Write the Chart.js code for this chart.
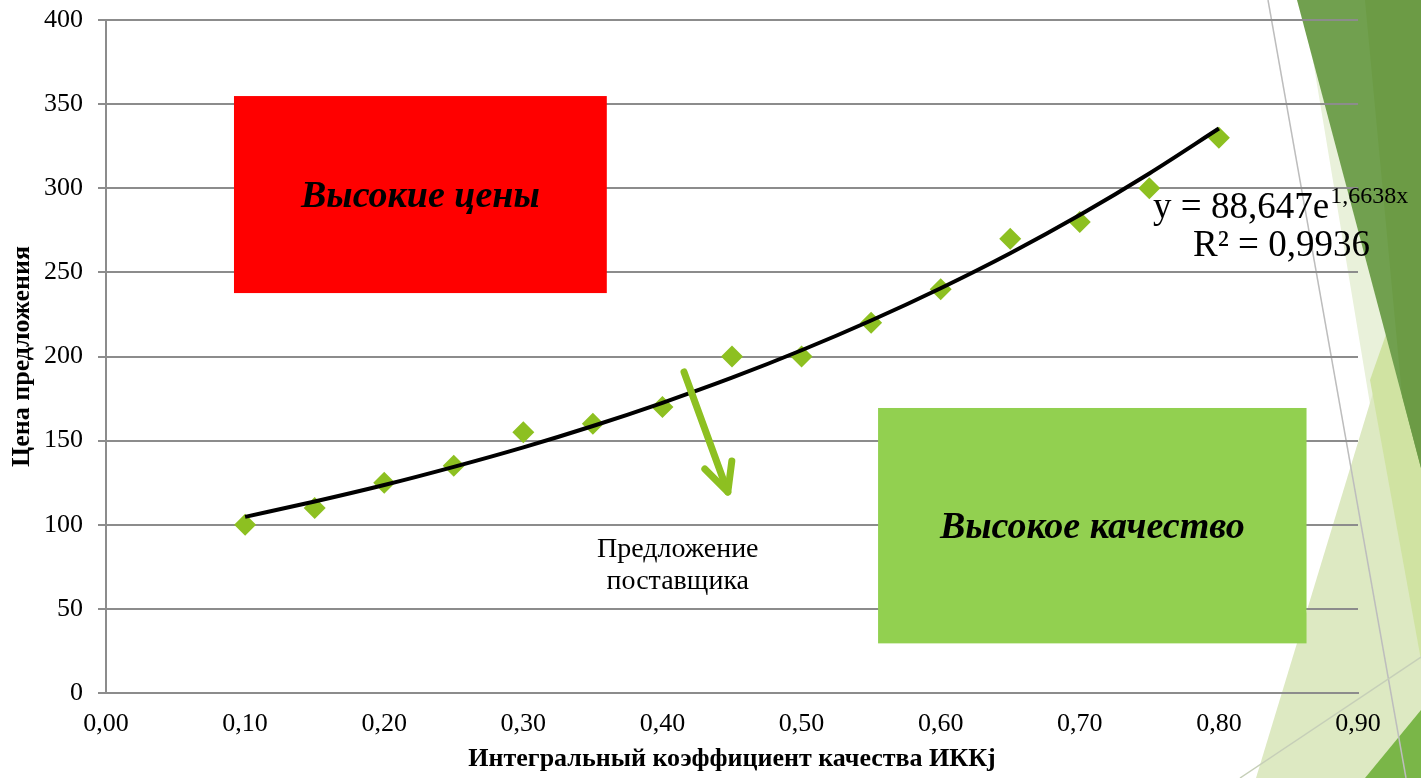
<!DOCTYPE html>
<html>
<head>
<meta charset="utf-8">
<script src="https://cdn.jsdelivr.net/npm/chart.js@4"></script>
<style>
  html, body { margin: 0; padding: 0; background: #ffffff; }
  #wrap { width: 1421px; height: 778px; position: relative; }
</style>
</head>
<body>
<div id="wrap"><canvas id="c" width="1421" height="778"></canvas></div>
<script>
// ---- data ----
const xValues = [0.10, 0.15, 0.20, 0.25, 0.30, 0.35, 0.40, 0.45, 0.50, 0.55, 0.60, 0.65, 0.70, 0.75, 0.80];
const priceValues = [100, 110, 125, 135, 155, 160, 170, 200, 200, 220, 240, 270, 280, 300, 330];
// trend line (exponential fit shown on the chart), read at the same x positions
const trendValues = [104.7, 113.8, 123.6, 134.4, 146.0, 158.7, 172.5, 187.4, 203.7, 221.4, 240.6, 261.4, 284.1, 308.8, 335.5];
const xTicks = [0, 0.1, 0.2, 0.3, 0.4, 0.5, 0.6, 0.7, 0.8, 0.9];
const yTicks = [0, 50, 100, 150, 200, 250, 300, 350, 400];
const xTitle = 'Интегральный коэффициент качества ИККj';
const yTitle = 'Цена предложения';
const boxHighPrice = { label: 'Высокие цены', x0: 0.092, x1: 0.360, y0: 237.7, y1: 354.8 };
const boxHighQuality = { label: 'Высокое качество', x0: 0.555, x1: 0.863, y0: 29.5, y1: 169.4 };
const supplierLabel = ['Предложение', 'поставщика'];
const eqMain = 'y = 88,647e';
const eqExp = '1,6638x';
const eqR2 = 'R² = 0,9936';

const SERIF = '"Liberation Serif", "Times New Roman", serif';
const GRID = '#8c8c8c';
const MARK = '#8dc021';

function fmt(v) { return v.toFixed(2).replace('.', ','); }

const decorPlugin = {
  id: 'decor',
  beforeDraw(chart) {
    const ctx = chart.ctx;
    const poly = (pts, color) => {
      ctx.beginPath();
      ctx.moveTo(pts[0][0], pts[0][1]);
      for (let i = 1; i < pts.length; i++) ctx.lineTo(pts[i][0], pts[i][1]);
      ctx.closePath();
      ctx.fillStyle = color;
      ctx.fill();
    };
    ctx.save();
    poly([[1303, 0], [1421, 0], [1421, 778], [1432, 778]], '#e9f1da');
    poly([[1256, 778], [1421, 235], [1421, 778]], '#dde9c2');
    poly([[1370, 380], [1421, 235], [1421, 660]], '#d0e3a2');
    poly([[1297, 0], [1421, 0], [1421, 468]], '#71a04f');
    poly([[1365, 0], [1421, 0], [1421, 468], [1402, 395]], '#6c9b45');
    poly([[1365, 778], [1421, 710], [1421, 778]], '#7ab648');
    ctx.strokeStyle = '#bdbdbd';
    ctx.lineWidth = 1.5;
    ctx.beginPath();
    ctx.moveTo(1268, 0); ctx.lineTo(1406, 778);
    ctx.stroke();
    ctx.strokeStyle = '#c6cfb8';
    ctx.beginPath();
    ctx.moveTo(1240, 778); ctx.lineTo(1421, 657);
    ctx.stroke();
    ctx.restore();
  },
  beforeDatasetsDraw(chart) {
    const ctx = chart.ctx;
    const xs = chart.scales.x, ys = chart.scales.y;
    const box = (b, color) => {
      const l = xs.getPixelForValue(b.x0), r = xs.getPixelForValue(b.x1);
      const t = ys.getPixelForValue(b.y1), bo = ys.getPixelForValue(b.y0);
      ctx.fillStyle = color;
      ctx.fillRect(l, t, r - l, bo - t);
      ctx.fillStyle = '#000';
      ctx.font = 'italic bold 38px ' + SERIF;
      ctx.textAlign = 'center';
      ctx.textBaseline = 'middle';
      ctx.fillText(b.label, (l + r) / 2, (t + bo) / 2 + 3);
    };
    ctx.save();
    box(boxHighPrice, '#ff0000');
    box(boxHighQuality, '#92d050');
    ctx.restore();
  },
  afterDatasetsDraw(chart) {
    const ctx = chart.ctx;
    const xs = chart.scales.x, ys = chart.scales.y;
    ctx.save();
    const ax0 = xs.getPixelForValue(0.4155), ay0 = ys.getPixelForValue(190.8);
    const ax1 = xs.getPixelForValue(0.447), ay1 = ys.getPixelForValue(119.5);
    ctx.strokeStyle = MARK;
    ctx.lineWidth = 7;
    ctx.lineCap = 'round';
    ctx.lineJoin = 'round';
    ctx.beginPath();
    ctx.moveTo(ax0, ay0); ctx.lineTo(ax1, ay1);
    ctx.stroke();
    ctx.beginPath();
    ctx.moveTo(ax1 - 23, ay1 - 23);
    ctx.lineTo(ax1, ay1);
    ctx.lineTo(ax1 + 4, ay1 - 31);
    ctx.stroke();
    ctx.fillStyle = '#000';
    ctx.font = '28px ' + SERIF;
    ctx.textAlign = 'center';
    ctx.textBaseline = 'middle';
    ctx.fillText(supplierLabel[0], xs.getPixelForValue(0.411), ys.getPixelForValue(85.2));
    ctx.fillText(supplierLabel[1], xs.getPixelForValue(0.411), ys.getPixelForValue(66.2));
    ctx.textAlign = 'left';
    ctx.textBaseline = 'alphabetic';
    ctx.font = '37px ' + SERIF;
    const ex = xs.getPixelForValue(0.7527), ey = ys.getPixelForValue(290) + 13;
    ctx.fillText(eqMain, ex, ey);
    const w = ctx.measureText(eqMain).width;
    ctx.font = '24px ' + SERIF;
    ctx.fillText(eqExp, ex + w + 1, ey - 15);
    ctx.font = '37px ' + SERIF;
    ctx.textAlign = 'center';
    ctx.fillText(eqR2, xs.getPixelForValue(0.845), ys.getPixelForValue(267.5) + 13);
    ctx.restore();
  }
};

new Chart(document.getElementById('c'), {
  type: 'scatter',
  data: {
    datasets: [
      {
        label: 'Тренд',
        type: 'line',
        data: xValues.map((x, i) => ({ x: x, y: trendValues[i] })),
        borderColor: '#000000',
        borderWidth: 4,
        pointRadius: 0,
        tension: 0.4,
        cubicInterpolationMode: 'monotone',
        fill: false,
        order: 1
      },
      {
        label: 'Цена',
        data: xValues.map((x, i) => ({ x: x, y: priceValues[i] })),
        pointStyle: 'rectRot',
        pointRadius: 11,
        pointBackgroundColor: MARK,
        pointBorderColor: MARK,
        pointBorderWidth: 0,
        order: 2
      }
    ]
  },
  options: {
    responsive: false,
    animation: false,
    devicePixelRatio: 1,
    layout: { padding: { left: 0, right: 63, top: 20, bottom: 0 } },
    plugins: { legend: { display: false }, tooltip: { enabled: false } },
    scales: {
      x: {
        type: 'linear',
        min: 0, max: 0.9,
        afterBuildTicks(s) { s.ticks = xTicks.map(v => ({ value: v })); },
        afterFit(s) { s.height = 85; s.paddingLeft = 0; s.paddingRight = 0; },
        ticks: {
          callback: v => fmt(v),
          color: '#000',
          font: { family: SERIF, size: 26 },
          padding: 8,
          maxRotation: 0,
          autoSkip: false
        },
        grid: { display: false, drawOnChartArea: false, drawTicks: true, tickLength: 8, color: GRID, lineWidth: 2 },
        border: { display: true, color: GRID, width: 2 },
        title: {
          display: true, text: xTitle, color: '#000',
          font: { family: SERIF, size: 26, weight: 'bold' },
          padding: { top: 2, bottom: 3 }
        }
      },
      y: {
        type: 'linear',
        min: 0, max: 400,
        afterBuildTicks(s) { s.ticks = yTicks.map(v => ({ value: v })); },
        afterFit(s) { s.width = 106; s.paddingTop = 0; s.paddingBottom = 0; },
        ticks: {
          color: '#000',
          font: { family: SERIF, size: 26 },
          padding: 15,
          autoSkip: false
        },
        grid: { color: GRID, lineWidth: 2, drawTicks: true, tickLength: 8 },
        border: { display: true, color: GRID, width: 2 },
        title: {
          display: true, text: yTitle, color: '#000',
          font: { family: SERIF, size: 26, weight: 'bold' },
          padding: { top: 7, bottom: 0 }
        }
      }
    }
  },
  plugins: [decorPlugin]
});
</script>
</body>
</html>
